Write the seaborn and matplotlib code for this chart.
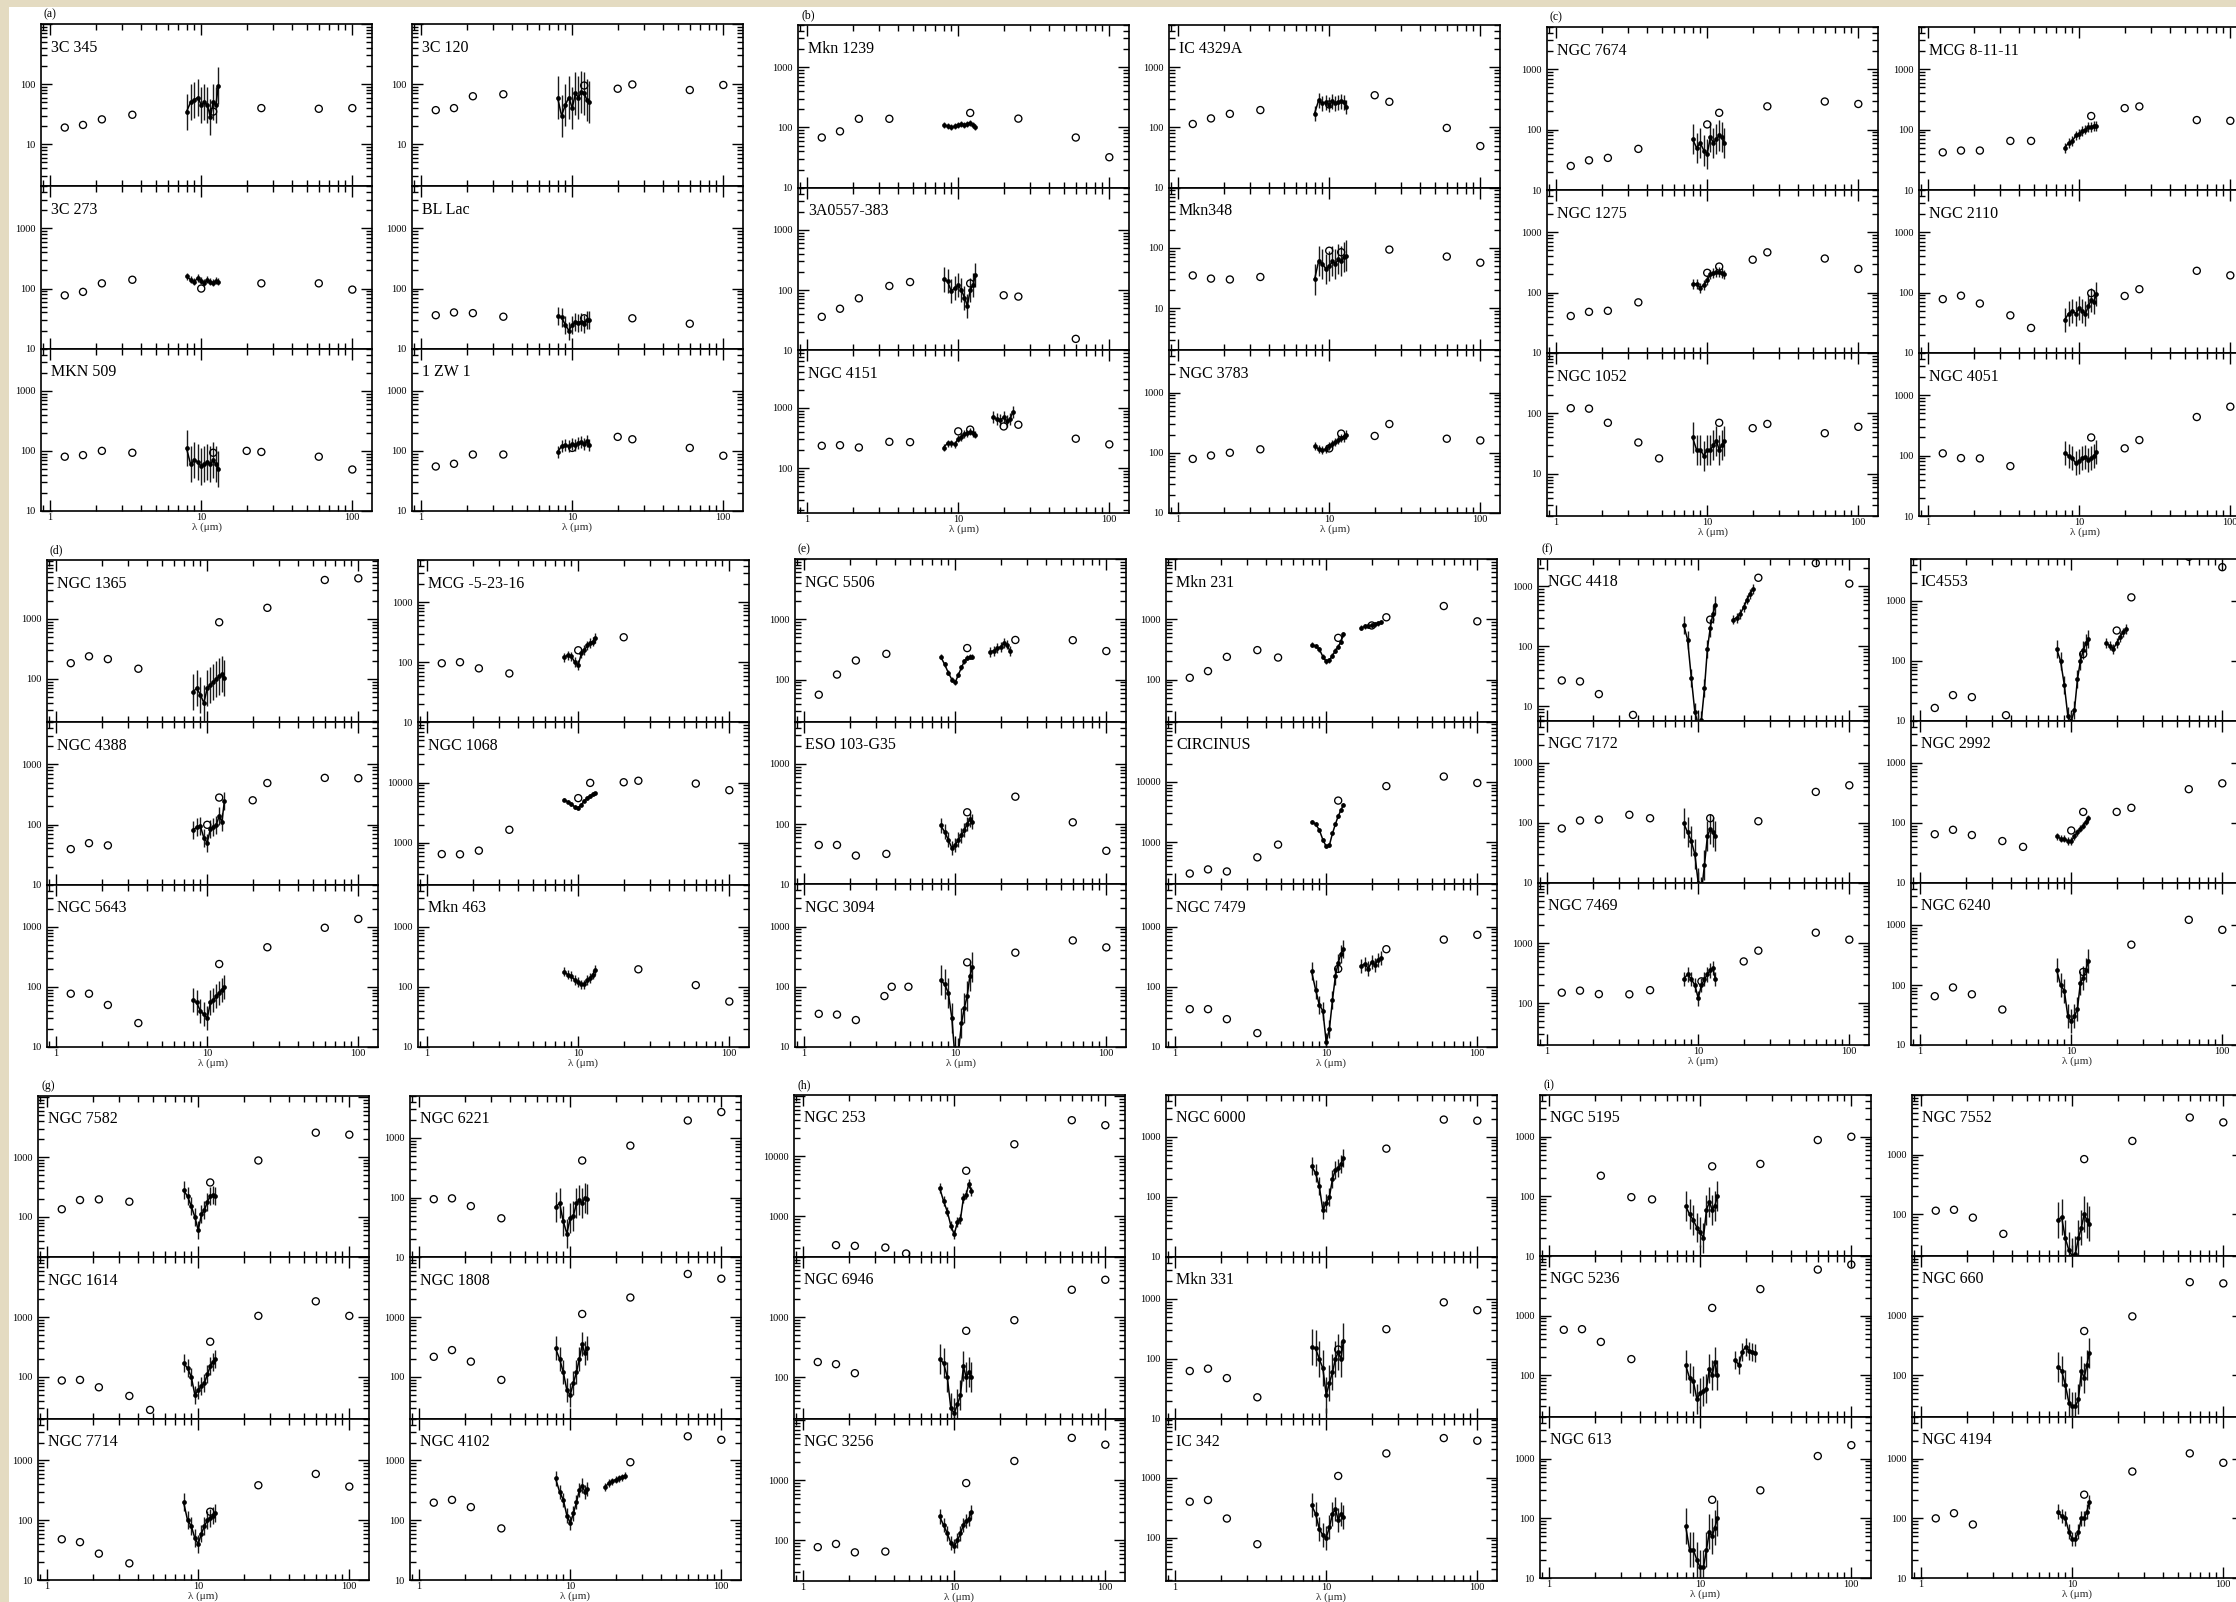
import numpy as np
import pandas as pd
import matplotlib
matplotlib.use("Agg")
import matplotlib.pyplot as plt
import seaborn as sns
from matplotlib.ticker import LogLocator, FuncFormatter, NullFormatter
from matplotlib.patches import Rectangle

# ---------------------------------------------------------------- data
GROUP_TAGS = ["(a)", "(b)", "(c)", "(d)", "(e)", "(f)", "(g)", "(h)", "(i)"]

NAMES = [
    "3C 345", "3C 120", "3C 273", "BL Lac", "MKN 509", "1 ZW 1",
    "Mkn 1239", "IC 4329A", "3A0557-383", "Mkn348", "NGC 4151", "NGC 3783",
    "NGC 7674", "MCG 8-11-11", "NGC 1275", "NGC 2110", "NGC 1052", "NGC 4051",
    "NGC 1365", "MCG -5-23-16", "NGC 4388", "NGC 1068", "NGC 5643", "Mkn 463",
    "NGC 5506", "Mkn 231", "ESO 103-G35", "CIRCINUS", "NGC 3094", "NGC 7479",
    "NGC 4418", "IC4553", "NGC 7172", "NGC 2992", "NGC 7469", "NGC 6240",
    "NGC 7582", "NGC 6221", "NGC 1614", "NGC 1808", "NGC 7714", "NGC 4102",
    "NGC 253", "NGC 6000", "NGC 6946", "Mkn 331", "NGC 3256", "IC 342",
    "NGC 5195", "NGC 7552", "NGC 5236", "NGC 660", "NGC 613", "NGC 4194",
]

# photometric wavelengths (micron) and flux densities (open circles)
PHOT_WL = [
    [1.25, 1.65, 2.2, 3.5, 12, 25, 60, 100],
    [1.25, 1.65, 2.2, 3.5, 12, 20, 25, 60, 100],
    [1.25, 1.65, 2.2, 3.5, 10, 25, 60, 100],
    [1.25, 1.65, 2.2, 3.5, 12, 25, 60],
    [1.25, 1.65, 2.2, 3.5, 12, 20, 25, 60, 100],
    [1.25, 1.65, 2.2, 3.5, 10, 20, 25, 60, 100],
    [1.25, 1.65, 2.2, 3.5, 12, 25, 60, 100],
    [1.25, 1.65, 2.2, 3.5, 10, 20, 25, 60, 100],
    [1.25, 1.65, 2.2, 3.5, 4.8, 12, 20, 25, 60],
    [1.25, 1.65, 2.2, 3.5, 10, 12, 25, 60, 100],
    [1.25, 1.65, 2.2, 3.5, 4.8, 10, 12, 20, 25, 60, 100],
    [1.25, 1.65, 2.2, 3.5, 10, 12, 20, 25, 60, 100],
    [1.25, 1.65, 2.2, 3.5, 10, 12, 25, 60, 100],
    [1.25, 1.65, 2.2, 3.5, 4.8, 12, 20, 25, 60, 100],
    [1.25, 1.65, 2.2, 3.5, 10, 12, 20, 25, 60, 100],
    [1.25, 1.65, 2.2, 3.5, 4.8, 12, 20, 25, 60, 100],
    [1.25, 1.65, 2.2, 3.5, 4.8, 12, 20, 25, 60, 100],
    [1.25, 1.65, 2.2, 3.5, 12, 20, 25, 60, 100],
    [1.25, 1.65, 2.2, 3.5, 12, 25, 60, 100],
    [1.25, 1.65, 2.2, 3.5, 10, 20],
    [1.25, 1.65, 2.2, 10, 12, 20, 25, 60, 100],
    [1.25, 1.65, 2.2, 3.5, 10, 12, 20, 25, 60, 100],
    [1.25, 1.65, 2.2, 3.5, 12, 25, 60, 100],
    [25, 60, 100],
    [1.25, 1.65, 2.2, 3.5, 12, 25, 60, 100],
    [1.25, 1.65, 2.2, 3.5, 4.8, 12, 20, 25, 60, 100],
    [1.25, 1.65, 2.2, 3.5, 12, 25, 60, 100],
    [1.25, 1.65, 2.2, 3.5, 4.8, 12, 25, 60, 100],
    [1.25, 1.65, 2.2, 3.4, 3.8, 4.9, 12, 25, 60, 100],
    [1.25, 1.65, 2.2, 3.5, 12, 25, 60, 100],
    [1.25, 1.65, 2.2, 3.7, 12, 25, 60, 100],
    [1.25, 1.65, 2.2, 3.7, 12, 20, 25, 60, 100],
    [1.25, 1.65, 2.2, 3.5, 4.8, 12, 25, 60, 100],
    [1.25, 1.65, 2.2, 3.5, 4.8, 10, 12, 20, 25, 60, 100],
    [1.25, 1.65, 2.2, 3.5, 4.8, 10.5, 20, 25, 60, 100],
    [1.25, 1.65, 2.2, 3.5, 12, 25, 60, 100],
    [1.25, 1.65, 2.2, 3.5, 12, 25, 60, 100],
    [1.25, 1.65, 2.2, 3.5, 12, 25, 60, 100],
    [1.25, 1.65, 2.2, 3.5, 4.8, 12, 25, 60, 100],
    [1.25, 1.65, 2.2, 3.5, 12, 25, 60, 100],
    [1.25, 1.65, 2.2, 3.5, 12, 25, 60, 100],
    [1.25, 1.65, 2.2, 3.5, 25, 60, 100],
    [1.65, 2.2, 3.5, 4.8, 12, 25, 60, 100],
    [25, 60, 100],
    [1.25, 1.65, 2.2, 12, 25, 60, 100],
    [1.25, 1.65, 2.2, 3.5, 12, 25, 60, 100],
    [1.25, 1.65, 2.2, 3.5, 12, 25, 60, 100],
    [1.25, 1.65, 2.2, 3.5, 12, 25, 60, 100],
    [2.2, 3.5, 4.8, 12, 25, 60, 100],
    [1.25, 1.65, 2.2, 3.5, 12, 25, 60, 100],
    [1.25, 1.65, 2.2, 3.5, 12, 25, 60, 100],
    [12, 25, 60, 100],
    [12, 25, 60, 100],
    [1.25, 1.65, 2.2, 12, 25, 60, 100],
]

PHOT_F = [
    [19, 21, 26, 31, 35, 40, 39, 40],
    [37, 40, 63, 68, 95, 84, 99, 80, 97],
    [77, 88, 122, 140, 100, 122, 122, 96],
    [36, 40, 39, 34, 32, 32, 26],
    [80, 85, 100, 93, 93, 100, 96, 80, 49],
    [55, 61, 87, 87, 112, 171, 156, 112, 83],
    [68, 86, 139, 139, 174, 140, 68, 32],
    [114, 141, 168, 194, 240, 342, 266, 98, 49],
    [36, 49, 73, 117, 136, 129, 82, 78, 15.5],
    [35, 31, 30, 33, 90, 85, 94, 72, 57],
    [235, 240, 220, 273, 270, 408, 436, 492, 525, 308, 248],
    [79, 90, 100, 114, 118, 208, 190, 300, 171, 160],
    [25, 31, 34, 48, 122, 190, 243, 292, 266],
    [42, 45, 45, 65, 65, 168, 227, 242, 144, 140],
    [41, 48, 50, 69, 213, 270, 351, 465, 367, 247],
    [78, 89, 66, 42, 26, 98, 88, 114, 230, 193],
    [122, 120, 70, 33, 18, 70, 57, 67, 47, 60],
    [109, 91, 90, 67, 200, 132, 181, 436, 647],
    [183, 238, 214, 148, 877, 1525, 4430, 4720],
    [96, 100, 79, 65, 158, 260],
    [39, 49, 45, 99, 281, 253, 490, 597, 590],
    [645, 640, 736, 1636, 5500, 9860, 10100, 10700, 9600, 7460],
    [77, 77, 50, 25, 240, 456, 962, 1350],
    [196, 107, 57],
    [56, 121, 207, 267, 333, 454, 450, 297],
    [107, 138, 238, 308, 232, 492, 790, 1080, 1660, 925],
    [45, 45, 30, 32, 157, 285, 107, 36],
    [302, 354, 327, 561, 913, 4910, 8530, 12300, 9620],
    [35.5, 34.5, 28, 70, 100, 100, 254, 368, 587, 450],
    [42.5, 42.5, 29, 17, 198, 420, 606, 727],
    [27, 26, 16, 7.2, 279, 1390, 2440, 1110],
    [16.5, 27, 25, 12.5, 130, 322, 1150, 5450, 3660],
    [81, 110, 114, 137, 120, 120, 107, 330, 425],
    [65, 77, 63, 50, 40, 75, 153, 153, 179, 366, 458],
    [149, 161, 141, 140, 164, 230, 494, 747, 1490, 1140],
    [65, 91, 70, 39, 165, 470, 1220, 830],
    [134, 191, 196, 179, 376, 877, 2560, 2370],
    [94, 97, 72, 45, 417, 740, 1950, 2700],
    [87, 89, 67, 48, 28, 388, 1050, 1840, 1050],
    [217, 281, 180, 89, 1130, 2130, 5280, 4400],
    [48, 43, 27.6, 19, 139, 385, 596, 366],
    [197, 219, 166, 73, 935, 2540, 2220],
    [331, 322, 302, 240, 5750, 15900, 40000, 33000],
    [640, 1950, 1870],
    [178, 164, 116, 590, 887, 2850, 4180],
    [63, 69, 48, 23, 144, 314, 880, 650],
    [77, 87, 63, 65, 900, 2100, 5100, 3930],
    [398, 425, 209, 78, 1070, 2540, 4580, 4140],
    [222, 97, 89, 319, 350, 880, 1000],
    [115, 119, 88, 47, 843, 1700, 4200, 3480],
    [580, 594, 363, 187, 1350, 2790, 5930, 7200],
    [553, 974, 3650, 3480],
    [205, 295, 1110, 1690],
    [100, 122, 79, 250, 610, 1230, 855],
]

# 8-13 micron spectra (filled dots with error bars)
SPEC_WL = [8.0, 8.5, 9.0, 9.5, 10.0, 10.5, 11.0, 11.5, 12.0, 12.5, 13.0]
SPEC_F = [
    [35, 50, 55, 60, 45, 50, 45, 28, 50, 45, 95],
    [60, 30, 45, 60, 40, 70, 60, 75, 70, 55, 50],
    [160, 140, 130, 150, 135, 125, 140, 130, 125, 135, 130],
    [35, 33, 25, 20, 25, 28, 27, 28, 26, 30, 30],
    [110, 60, 70, 65, 55, 60, 65, 60, 70, 60, 50],
    [95, 120, 125, 120, 130, 125, 135, 140, 130, 145, 125],
    [110, 105, 100, 105, 110, 115, 110, 115, 120, 110, 100],
    [170, 280, 250, 260, 240, 270, 250, 260, 270, 260, 220],
    [150, 140, 95, 110, 120, 100, 75, 55, 100, 120, 175],
    [30, 60, 55, 45, 50, 60, 55, 65, 60, 70, 75],
    [220, 260, 260, 250, 310, 330, 370, 380, 400, 380, 360],
    [130, 115, 110, 115, 130, 140, 150, 165, 175, 180, 200],
    [70, 50, 60, 45, 40, 75, 60, 70, 80, 75, 60],
    [50, 60, 65, 80, 85, 95, 100, 110, 110, 115, 115],
    [140, 140, 120, 135, 160, 200, 210, 220, 220, 210, 200],
    [35, 45, 50, 45, 55, 50, 45, 60, 75, 70, 95],
    [40, 25, 25, 20, 25, 25, 30, 35, 25, 30, 35],
    [110, 100, 90, 75, 80, 90, 95, 85, 90, 100, 115],
    [60, 70, 55, 40, 70, 80, 90, 100, 110, 120, 105],
    [120, 130, 125, 100, 90, 140, 160, 190, 210, 220, 250],
    [80, 90, 95, 60, 50, 85, 90, 100, 140, 110, 250],
    [5200, 4800, 4400, 3900, 3800, 4300, 5000, 5500, 6000, 6400, 6600],
    [60, 55, 40, 35, 30, 55, 60, 70, 80, 90, 100],
    [180, 160, 150, 130, 120, 110, 110, 130, 140, 160, 190],
    [240, 180, 130, 100, 90, 120, 160, 200, 230, 240, 240],
    [380, 360, 320, 240, 200, 210, 250, 300, 350, 420, 560],
    [95, 75, 55, 40, 45, 55, 65, 80, 100, 120, 110],
    [2200, 2000, 1600, 1100, 850, 900, 1400, 2000, 2700, 3400, 4200],
    [130, 110, 80, 30, 6, 8, 25, 45, 70, 150, 210],
    [180, 90, 50, 40, 12, 20, 60, 150, 250, 350, 420],
    [230, 130, 30, 8, 5, 6, 20, 90, 200, 350, 480],
    [160, 100, 40, 12, 10, 15, 50, 100, 150, 200, 230],
    [100, 70, 50, 30, 10, 7, 20, 60, 80, 70, 60],
    [60, 55, 55, 50, 50, 60, 70, 80, 90, 105, 120],
    [250, 300, 250, 200, 120, 200, 250, 300, 350, 380, 250],
    [180, 100, 80, 30, 25, 30, 40, 110, 130, 180, 250],
    [280, 220, 150, 100, 60, 110, 130, 180, 220, 230, 220],
    [70, 80, 40, 25, 45, 50, 80, 90, 80, 100, 95],
    [170, 140, 100, 50, 60, 70, 80, 110, 150, 180, 200],
    [300, 200, 120, 60, 50, 80, 120, 200, 350, 250, 300],
    [200, 100, 80, 50, 40, 60, 80, 100, 110, 120, 130],
    [500, 300, 220, 120, 90, 130, 200, 320, 380, 300, 330],
    [3000, 1800, 1200, 700, 500, 800, 900, 2000, 2300, 3500, 2600],
    [330, 250, 150, 60, 80, 100, 200, 280, 300, 350, 450],
    [200, 170, 100, 30, 25, 35, 50, 150, 100, 120, 100],
    [160, 150, 100, 70, 25, 40, 60, 100, 130, 100, 200],
    [250, 180, 130, 90, 80, 100, 130, 180, 210, 230, 300],
    [350, 250, 140, 110, 100, 150, 250, 300, 200, 250, 220],
    [70, 50, 40, 30, 25, 20, 60, 80, 60, 70, 100],
    [80, 90, 40, 25, 20, 22, 40, 60, 100, 80, 70],
    [150, 90, 80, 40, 50, 55, 60, 130, 100, 170, 100],
    [140, 120, 70, 35, 30, 30, 40, 120, 90, 150, 240],
    [75, 30, 30, 20, 15, 15, 30, 60, 50, 70, 100],
    [130, 110, 100, 60, 45, 45, 60, 100, 100, 130, 190],
]
# half-length of the error bars (dex)
SPEC_ERR = [
    0.3, 0.35, 0.06, 0.15, 0.3, 0.1,
    0.05, 0.12, 0.2, 0.25, 0.06, 0.07,
    0.25, 0.08, 0.08, 0.2, 0.25, 0.2,
    0.3, 0.08, 0.15, 0.03, 0.2, 0.08,
    0.04, 0.04, 0.12, 0.03, 0.25, 0.15,
    0.15, 0.15, 0.25, 0.06, 0.12, 0.2,
    0.15, 0.25, 0.15, 0.2, 0.15, 0.12,
    0.08, 0.15, 0.25, 0.3, 0.12, 0.2,
    0.25, 0.3, 0.25, 0.25, 0.3, 0.12,
]

# 17-23 micron spectra where present
LONG_WL = [17.0, 18.0, 19.0, 20.0, 21.0, 22.0, 23.0]
LONG_F = {
    10: [700, 650, 620, 700, 600, 650, 850],
    24: [290, 300, 330, 350, 400, 380, 300],
    25: [720, 760, 780, 800, 830, 860, 900],
    29: [220, 240, 200, 260, 230, 280, 300],
    30: [280, 300, 350, 450, 600, 750, 900],
    31: [200, 180, 160, 200, 250, 300, 340],
    41: [360, 420, 450, 480, 500, 520, 560],
    50: [180, 150, 250, 300, 260, 250, 240],
}
LONG_ERR = {10: 0.1, 24: 0.08, 25: 0.04, 29: 0.12, 30: 0.08, 31: 0.08,
            41: 0.06, 50: 0.15}

# lower limit of each panel's flux axis
Y_BOTTOM = [
    2, 2, 10, 10, 10, 10,
    10, 10, 10, 2, 18, 10,
    10, 10, 10, 10, 2, 10,
    19, 10, 10, 200, 10, 10,
    20, 20, 10, 200, 10, 10,
    5.7, 10, 10, 10, 20, 10,
    21, 10, 20, 20, 10, 10,
    210, 10, 20, 10, 21, 19,
    10, 20, 20, 20, 10, 10,
]

# ---------------------------------------------------------------- layout (pixels)
W, H = 2236, 1602
# (left-column x, right-column x, top y, bottom y) of each group block
GROUP_BOX = [
    (41, 412, 24, 511), (798, 1169, 25, 513), (1547, 1919, 27, 516),
    (47, 418, 560, 1047), (795, 1166, 559, 1047), (1538, 1911, 559, 1045),
    (38, 410, 1096, 1580), (794, 1166, 1095, 1581), (1540, 1912, 1095, 1578),
]
PANEL_W = 331
DECADES = 2.7

sns.set_theme(style="ticks")
plt.rcParams['font.family'] = ['Liberation Serif', 'DejaVu Serif']
plt.rcParams['axes.edgecolor'] = 'black'
plt.rcParams['axes.linewidth'] = 1.2
plt.rcParams['xtick.color'] = 'black'
plt.rcParams['ytick.color'] = 'black'

fig = plt.figure(figsize=(W / 100, H / 100), dpi=100)
fig.patch.set_facecolor('white')

# scanned-page beige margins
beige = '#e4dbc1'
fig.add_artist(Rectangle((0, 0), 9 / W, 1, transform=fig.transFigure,
                         facecolor=beige, edgecolor='none', zorder=-5))
fig.add_artist(Rectangle((0, 1 - 7 / H), 1, 7 / H, transform=fig.transFigure,
                         facecolor=beige, edgecolor='none', zorder=-5))


def make_fmt(top):
    def f(v, pos):
        if v > top / 1.15:
            return ''
        return '%d' % round(v)
    return f


for k, name in enumerate(NAMES):
    g = k // 6
    within = k % 6
    col = within % 2
    row = within // 2
    xl, xr, top_px, bot_px = GROUP_BOX[g]
    ph = (bot_px - top_px) / 3.0
    x0 = xl if col == 0 else xr
    y0 = top_px + row * ph
    ax = fig.add_axes([x0 / W, 1 - (y0 + ph) / H, PANEL_W / W, ph / H])
    ax.set_facecolor('white')
    ax.set_xscale('log')
    ax.set_yscale('log')

    ybot = Y_BOTTOM[k]
    ytop = ybot * 10 ** DECADES

    # spectrum with error bars
    spec = pd.DataFrame({'wl': SPEC_WL, 'f': SPEC_F[k]})
    e = SPEC_ERR[k]
    ax.vlines(spec['wl'], spec['f'] * 10 ** (-e), spec['f'] * 10 ** e,
              color='#1a1a1a', lw=1.0, zorder=2)
    sns.lineplot(data=spec, x='wl', y='f', ax=ax, color='black', lw=1.1,
                 marker='o', markersize=3.4, markeredgewidth=0,
                 estimator=None, sort=False, legend=False, zorder=3)
    if k in LONG_F:
        lspec = pd.DataFrame({'wl': LONG_WL, 'f': LONG_F[k]})
        le = LONG_ERR[k]
        ax.vlines(lspec['wl'], lspec['f'] * 10 ** (-le), lspec['f'] * 10 ** le,
                  color='#1a1a1a', lw=1.0, zorder=2)
        sns.lineplot(data=lspec, x='wl', y='f', ax=ax, color='black', lw=1.1,
                     marker='o', markersize=3.4, markeredgewidth=0,
                     estimator=None, sort=False, legend=False, zorder=3)

    # photometry
    phot = pd.DataFrame({'wl': PHOT_WL[k], 'f': PHOT_F[k]})
    sns.scatterplot(data=phot, x='wl', y='f', ax=ax, marker='o', s=26,
                    facecolor='none', edgecolor='black', linewidth=0.95,
                    legend=False, zorder=4)

    ax.set_xlim(0.87, 135)
    ax.set_ylim(ybot, ytop)

    ax.xaxis.set_major_locator(LogLocator(base=10, numticks=10))
    ax.xaxis.set_minor_locator(LogLocator(base=10, subs=np.arange(2, 10), numticks=30))
    ax.yaxis.set_major_locator(LogLocator(base=10, numticks=10))
    ax.yaxis.set_minor_locator(LogLocator(base=10, subs=np.arange(2, 10), numticks=30))
    ax.yaxis.set_major_formatter(FuncFormatter(make_fmt(ytop)))
    ax.yaxis.set_minor_formatter(NullFormatter())
    ax.xaxis.set_minor_formatter(NullFormatter())

    ax.tick_params(which='both', direction='in', top=True, right=True,
                   width=1.0, colors='black')
    ax.tick_params(which='major', length=8)
    ax.tick_params(which='minor', length=4)
    ax.tick_params(axis='y', which='major', labelsize=7.5, pad=4)
    ax.tick_params(axis='x', which='major', labelsize=7.5, pad=1.5)

    if row == 2:
        ax.xaxis.set_major_formatter(FuncFormatter(lambda v, p: '%d' % round(v)))
        ax.set_xlabel('λ (μm)', fontsize=8, labelpad=0)
    else:
        ax.xaxis.set_major_formatter(NullFormatter())
        ax.set_xlabel('')
    ax.set_ylabel('')

    for sp in ax.spines.values():
        sp.set_visible(True)
        sp.set_linewidth(1.2)

    ax.text(0.03, 0.855, name, transform=ax.transAxes, fontsize=11.5,
            ha='left', va='center', color='black')

    if within == 0:
        fig.text((x0 + 3) / W, 1 - (top_px - 10) / H, GROUP_TAGS[g],
                 fontsize=8.5, ha='left', va='center', color='black')

fig.savefig('out.png', dpi=100, facecolor=fig.get_facecolor())
